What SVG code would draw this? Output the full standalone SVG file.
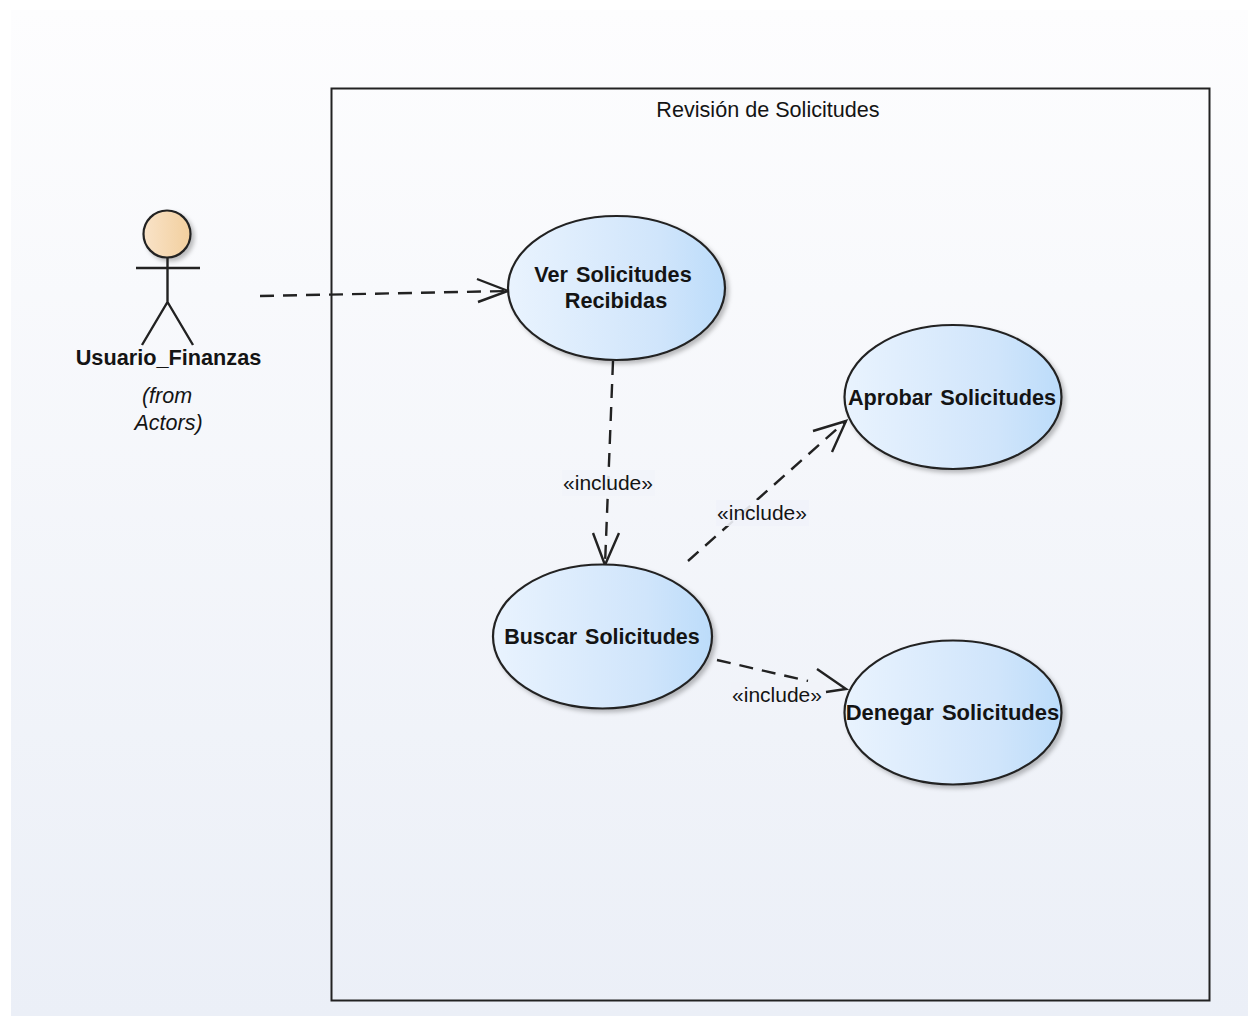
<svg xmlns="http://www.w3.org/2000/svg" width="1248" height="1016" viewBox="0 0 1248 1016">
<style>
text{font-family:"Liberation Sans",Arial,sans-serif;fill:#141414;text-anchor:middle}
.uc{font-size:21.7px;font-weight:bold;word-spacing:2px}
.lb{font-size:21px}
.it{font-size:21.5px;font-style:italic}
.oval{fill:url(#blue);stroke:#222;stroke-width:2.2;filter:url(#sh)}
.c{fill:none;stroke:#222;stroke-width:2.4}
.d{stroke-dasharray:14 9}
</style>
<defs>
<linearGradient id="bg" x1="0" y1="0" x2="0" y2="1"><stop offset="0" stop-color="#fdfdfe"/><stop offset="1" stop-color="#ebeff7"/></linearGradient>
<linearGradient id="blue" x1="0" y1="0" x2="1" y2="0"><stop offset="0" stop-color="#e9f3fe"/><stop offset=".7" stop-color="#d0e5fb"/><stop offset="1" stop-color="#bcdcfa"/></linearGradient>
<linearGradient id="tan" x1="0" y1="0" x2="1" y2="0"><stop offset="0" stop-color="#f9e3c8"/><stop offset="1" stop-color="#f2cf9e"/></linearGradient>
<filter id="sh" x="-10%" y="-10%" width="125%" height="125%"><feDropShadow dx="3" dy="3" stdDeviation="2" flood-color="#000" flood-opacity=".25"/></filter>
</defs>
<rect width="1248" height="1016" fill="#fff"/>
<rect x="11" y="10" width="1237" height="1006" fill="url(#bg)"/>
<g id="boundary">
<rect x="331.500" y="88.500" width="878" height="912" fill="none" stroke="#222" stroke-width="2"/>
<text x="768" y="117" class="lb" style="font-size:21.6px">Revisión de Solicitudes</text>
</g>
<g id="connectors">
<path class="c d" d="M260 296L508 291"/><path class="c" d="M477 279L508 291L478 302"/>
<path class="c d" d="M613 361L605 565"/><path class="c" d="M593 533L605 565L619 533"/>
<path class="c d" d="M688 561L846 421"/><path class="c" d="M813 431L846 421L832 452"/>
<path class="c d" d="M717 660L808 681"/><path class="c" d="M817 669L846 689L826 692"/>
</g>
<rect x="562" y="470" width="93" height="26" fill="#f2f4f9" opacity=".9"/>
<rect x="716" y="500" width="93" height="26" fill="#f1f3f9" opacity=".9"/>
<rect x="731" y="682" width="93" height="25" fill="#f1f3f9"/>
<g id="actor-usuario">
<circle cx="167" cy="234" r="23.500" fill="url(#tan)" stroke="#222" stroke-width="2.200" filter="url(#sh)"/>
<path class="c" d="M136 268H200M167.500 258V302L142 345M167.500 302L193 345"/>
<text x="168.500" y="365" class="uc" style="word-spacing:0">Usuario_Finanzas</text>
<text x="167" y="403" class="it">(from</text>
<text x="168.500" y="430" class="it">Actors)</text>
</g>
<g id="uc-ver">
<ellipse class="oval" cx="616.500" cy="288" rx="108.500" ry="72"/>
<text x="613" y="282" class="uc">Ver Solicitudes</text><text x="616" y="308" class="uc">Recibidas</text>
</g>
<g id="uc-aprobar">
<ellipse class="oval" cx="953" cy="397" rx="108.500" ry="72"/>
<text x="952" y="405" class="uc">Aprobar Solicitudes</text>
</g>
<g id="uc-buscar">
<ellipse class="oval" cx="602.500" cy="636.500" rx="109.500" ry="72"/>
<text x="602" y="644" class="uc" style="font-size:21.5px">Buscar Solicitudes</text>
</g>
<g id="uc-denegar">
<ellipse class="oval" cx="953" cy="712.500" rx="108.500" ry="72"/>
<text x="952.500" y="720" class="uc" style="font-size:22px">Denegar Solicitudes</text>
</g>
<g id="labels">
<text x="608" y="490" class="lb">«include»</text>
<text x="762" y="520" class="lb">«include»</text>
<text x="777" y="702" class="lb">«include»</text>
</g>
</svg>
